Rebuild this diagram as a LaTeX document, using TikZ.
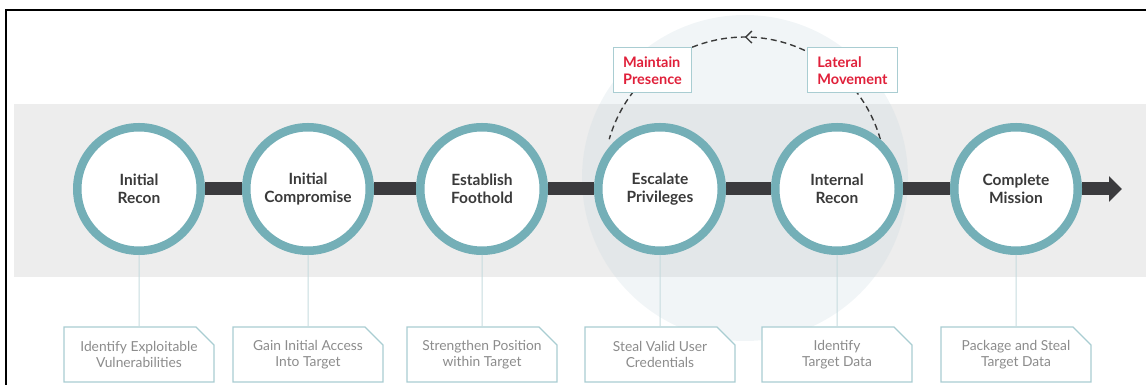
\documentclass[tikz,border=0pt]{standalone}
\usepackage{fontspec}
\setmainfont{Lato}
\usetikzlibrary{
    arrows.meta, positioning, shapes.misc,
    backgrounds, decorations.markings
}
\definecolor{ringTeal}{HTML}{74AFB7}
\definecolor{spineGray}{HTML}{3B3B3E}
\definecolor{bandGray}{HTML}{EDEDED}
\definecolor{glowBlue}{HTML}{C9D9DF}
\definecolor{stageText}{HTML}{3A3A3A}
\definecolor{noteText}{HTML}{8C8C8C}
\definecolor{noteEdge}{HTML}{A9CDD2}
\definecolor{stemBlue}{HTML}{C6DBDE}
\definecolor{tacticRed}{HTML}{E0203A}
\definecolor{dashGray}{HTML}{3A3A3A}
\tikzset{
    % Stages
    stageRing/.style={
        circle, draw=ringTeal, line width=8.5pt, fill=white,
        minimum size=123.5pt, inner sep=0pt, align=center, text=stageText,
        font=\fontsize{15.5}{18.5}\selectfont\bfseries
    },
    spineBar/.style={draw=spineGray, line width=13pt},
    spineTip/.style={-{Triangle[length=13pt,width=25pt]}},
    % Notes
    noteBox/.style={
        chamfered rectangle, chamfered rectangle corners=north east,
        chamfered rectangle xsep=8pt, chamfered rectangle ysep=10pt,
        draw=noteEdge, line width=1.2pt, fill=white,
        minimum width=150pt, minimum height=55pt, inner sep=0pt,
        align=center, text=noteText, font=\fontsize{13.8}{16.5}\selectfont
    },
    stemLine/.style={draw=stemBlue, line width=1pt},
    % Loop
    tacticBox/.style={
        rectangle, draw=noteEdge, line width=1pt, fill=white,
        minimum height=45pt, inner xsep=10pt, inner ysep=0pt, align=left,
        text=tacticRed, font=\fontsize{14.5}{17}\selectfont\bfseries
    },
    orbitPath/.style={
        draw=dashGray, line width=1.4pt, dash pattern=on 6pt off 4pt,
        postaction={decorate},
        decoration={markings, mark=at position 0.5 with
            {\arrow[solid]{Straight Barb[length=6pt,width=12pt]}}}
    },
    frameLine/.style={draw=black, line width=2pt}
}
\begin{document}
\begin{tikzpicture}[x=1pt, y=1pt]
    \useasboundingbox (0,0) rectangle (1146,385);
    \draw[frameLine] (6,0) -- (6,375) -- (1146,375);

    % Stages with notes
    \foreach \id/\xpos/\stage/\note in {
        s1/139/{Initial\\Recon}/{Identify Exploitable\\Vulnerabilities},
        s2/308/{Initial\\Compromise}/{Gain Initial Access\\Into Target},
        s3/482/{Establish\\Foothold}/{Strengthen Position\\within Target},
        s4/660/{Escalate\\Privileges}/{Steal Valid User\\Credentials},
        s5/837/{Internal\\Recon}/{Identify\\Target Data},
        s6/1016/{Complete\\Mission}/{Package and Steal\\Target Data}} {
        \node[stageRing] (\id) at (\xpos,196) {\stage};
        \node[noteBox] (\id-note) at (\xpos,30.5) {\note};
        \draw[stemLine] (\id) -- (\id-note);
    }
    \coordinate (tip) at (1122,196);
    \coordinate (hub) at (745,207);

    % Loop labels
    \node[tacticBox] (presence) at (652.5,314.5) {Maintain\\Presence};
    \node[tacticBox] (lateral) at (852.5,314.5) {Lateral\\Movement};

    \begin{scope}[on background layer]
        \fill[bandGray] (14,108) rectangle (1146,281);
        \fill[glowBlue, fill opacity=0.25] (hub) circle[radius=163];
        \foreach \a/\b in {s1/s2, s2/s3, s3/s4, s4/s5, s5/s6}
            \draw[spineBar] (\a) -- (\b);
        \draw[spineBar, spineTip] (s6) -- (tip);
        \draw[orbitPath] (s5.49) arc[start angle=16, end angle=164, radius=141];
    \end{scope}
\end{tikzpicture}
\end{document}
